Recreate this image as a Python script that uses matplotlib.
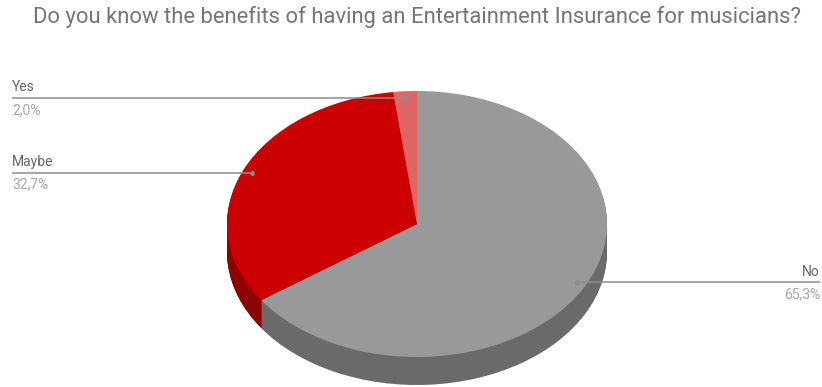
import numpy as np
import matplotlib
matplotlib.use("Agg")
import matplotlib.pyplot as plt

title = "Do you know the benefits of having an Entertainment Insurance for musicians?"
answers = ["No", "Maybe", "Yes"]
shares = [65.3, 32.7, 2.0]

top_colors = ["#999999", "#cc0000", "#e06666"]
side_colors = ["#6a6a6a", "#8f0000", "#9c4848"]

W, H = 822, 387
cx, cy = 417, 224      # centre of the top face, pixels
rx, ry = 190, 133      # ellipse half-axes, pixels
depth = 28             # thickness of the disc, pixels

plt.rcParams["font.family"] = ["Roboto", "DejaVu Sans"]

fig = plt.figure(figsize=(W / 100, H / 100), dpi=100)
ax = fig.add_axes([0, 0, 1, 1])

# extruded side: darker copies of the pie stacked downwards
for d in np.arange(depth, 0, -1):
    ax.pie(shares, colors=side_colors, startangle=90, counterclock=False,
           center=(0, -d / ry), radius=1, wedgeprops=dict(linewidth=0))
ax.pie(shares, colors=top_colors, startangle=90, counterclock=False,
       center=(0, 0), radius=1, wedgeprops=dict(linewidth=0))

ax.set_aspect("auto")
ax.set_xlim(-cx / rx, (W - cx) / rx)
ax.set_ylim(-(H - cy) / ry, cy / ry)
ax.axis("off")


def px_x(x):
    return (x - cx) / rx


# leader lines with labels
line_color = "#8c8c8c"
start = 0.0
for name, val in zip(answers, shares):
    mid = np.radians(start + val * 1.8)
    start += val * 3.6
    dx, dy = 0.95 * np.sin(mid), 0.95 * np.cos(mid)
    pct = f"{val:.1f}".replace(".", ",") + "%"
    if dx < 0:
        x_end, ha = px_x(12), "left"
    else:
        x_end, ha = px_x(W - 2), "right"
    ax.plot([dx, x_end], [dy, dy], color=line_color, lw=1.1,
            solid_capstyle="butt")
    ax.plot(dx, dy, "o", color=line_color, ms=3.5, mec="none")
    off = 10.5 / ry
    ax.text(x_end, dy + off, name, ha=ha, va="center", fontsize=10,
            color="#666666")
    ax.text(x_end, dy - off - 1.5 / ry, pct, ha=ha, va="center", fontsize=10,
            color="#a6a6a6")

fig.text(417 / W, 1 - 17 / H, title, ha="center", va="center", fontsize=15.8,
         color="#757575")

fig.savefig("out.png", dpi=100)
